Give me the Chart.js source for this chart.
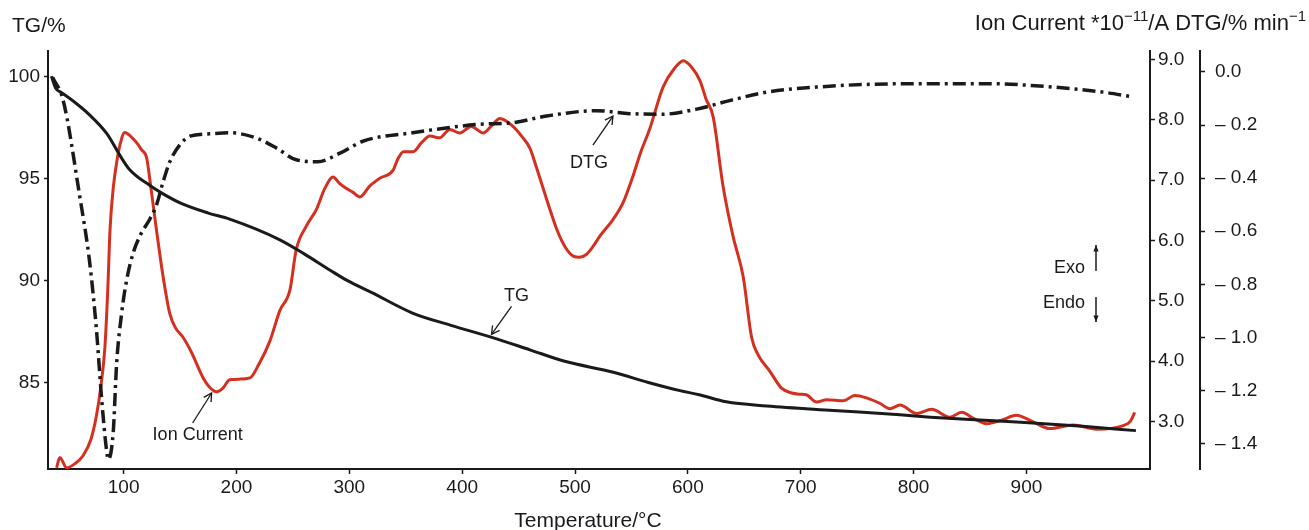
<!DOCTYPE html>
<html>
<head>
<meta charset="utf-8">
<title>TG / DTG / Ion Current</title>
<script src="https://cdn.jsdelivr.net/npm/chart.js@4/dist/chart.umd.min.js"></script>
<style>
    html, body { margin: 0; padding: 0; background: #fff; }
    #wrap { width: 1309px; height: 530px; position: relative; }
</style>
</head>
<body>
<div id="wrap"><canvas id="thermoChart"></canvas></div>
<script>
// --- data ---
const tgTemp = [36, 40, 45, 55, 70, 85, 97, 105, 123, 135, 150, 175, 194, 238, 260, 283, 298, 320, 356, 390, 427, 460, 490, 534, 565, 593, 610, 634, 670, 729, 788, 815, 850, 895, 950, 997];
const tgVal  = [100.0, 99.4, 99.2, 98.8, 98.1, 97.2, 96.1, 95.45, 94.66, 94.24, 93.8, 93.3, 93.0, 92.0, 91.3, 90.5, 90.0, 89.4, 88.4, 87.8, 87.2, 86.6, 86.05, 85.5, 85.0, 84.6, 84.4, 84.05, 83.85, 83.63, 83.42, 83.3, 83.18, 83.05, 82.85, 82.64];

const dtgTemp = [37, 46.5, 61, 70, 76, 80.5, 85, 86.4, 90.8, 93.8, 98.2, 102.7, 108.5, 114.4, 123.3, 129, 135, 141, 150, 158.8, 176.5, 194, 217.6, 235.6, 253, 272, 291.7, 312, 356, 415.7, 445, 474.8, 519, 548.6, 578, 607.8, 637, 669.8, 714, 758, 814, 865, 924, 968, 993];
const dtgVal  = [-0.02, -0.108, -0.465, -0.72, -0.975, -1.23, -1.43, -1.46, -1.357, -1.10, -0.911, -0.784, -0.682, -0.618, -0.554, -0.503, -0.414, -0.338, -0.274, -0.242, -0.233, -0.229, -0.249, -0.287, -0.331, -0.338, -0.306, -0.261, -0.229, -0.197, -0.191, -0.166, -0.146, -0.157, -0.159, -0.140, -0.108, -0.076, -0.057, -0.047, -0.044, -0.044, -0.057, -0.076, -0.093];

const ionTemp = [40.6, 43.5, 49.5, 57, 64, 71, 76, 80, 83.4, 86, 88, 91, 94, 97, 101, 106, 111.5, 116, 120.4, 124, 129, 135, 141, 146, 152.8, 160, 170.5, 176, 182.4, 188, 194, 203, 212, 220, 229.6, 238.5, 247.4, 253, 262, 271, 278, 285.7, 291, 297.6, 303, 309.4, 318, 327, 339, 343, 348, 356.6, 364, 371.4, 380, 389, 398, 408, 418.6, 426, 433.4, 445, 453, 460, 466, 471.8, 478, 483.7, 491, 498.4, 504, 510.3, 516, 522, 533.8, 542.7, 551.6, 558, 566.4, 578, 588, 596, 603, 610.7, 616, 622.5, 631, 640, 649, 656.5, 662, 672.7, 683, 692, 699.3, 705, 714, 723, 737.7, 748, 758.4, 770, 779, 788, 802.7, 816, 832, 842.6, 853, 864.7, 878, 891, 905, 920.8, 941.5, 962, 985.8, 992, 996];
const ionVal  = [2.23, 2.40, 2.23, 2.30, 2.43, 2.70, 3.10, 3.60, 4.22, 5.2, 6.19, 6.9, 7.31, 7.6, 7.79, 7.73, 7.62, 7.5, 7.37, 6.9, 6.19, 5.4, 4.78, 4.55, 4.39, 4.15, 3.72, 3.57, 3.49, 3.55, 3.69, 3.70, 3.72, 3.95, 4.33, 4.84, 5.18, 5.85, 6.24, 6.52, 6.85, 7.05, 6.95, 6.86, 6.80, 6.72, 6.90, 7.03, 7.17, 7.35, 7.47, 7.47, 7.62, 7.73, 7.70, 7.84, 7.78, 7.89, 7.78, 7.90, 8.02, 7.89, 7.72, 7.53, 7.2, 6.86, 6.5, 6.19, 5.9, 5.74, 5.72, 5.77, 5.9, 6.07, 6.35, 6.63, 7.08, 7.45, 7.86, 8.54, 8.85, 8.98, 8.88, 8.65, 8.35, 8.04, 6.92, 6.07, 5.40, 4.39, 4.11, 3.83, 3.55, 3.47, 3.45, 3.44, 3.32, 3.36, 3.34, 3.43, 3.39, 3.30, 3.21, 3.27, 3.13, 3.20, 3.07, 3.15, 3.05, 2.96, 3.02, 3.10, 3.00, 2.88, 2.94, 2.87, 2.93, 3.00, 3.15];

const tempTicks = [100, 200, 300, 400, 500, 600, 700, 800, 900];
const tgTicks = [85, 90, 95, 100];
const ionTicks = [3, 4, 5, 6, 7, 8, 9];
const dtgTicks = [0, -0.2, -0.4, -0.6, -0.8, -1.0, -1.2, -1.4];

const FONT = '"Liberation Sans", Arial, Helvetica, sans-serif';
const INK = '#1a1a1a';

function toPoints(xs, ys) {
    return xs.map((x, i) => ({ x: x, y: ys[i] }));
}

function fixedTicks(values) {
    return function (scale) {
        scale.ticks = values.map(v => ({ value: v }));
    };
}

function arrow(ctx, x1, y1, x2, y2, filled) {
    const ang = Math.atan2(y2 - y1, x2 - x1);
    const len = filled ? 7 : 9;
    const spread = filled ? 0.38 : 0.5;
    ctx.beginPath();
    ctx.moveTo(x1, y1);
    ctx.lineTo(x2, y2);
    ctx.stroke();
    ctx.beginPath();
    ctx.moveTo(x2 - len * Math.cos(ang - spread), y2 - len * Math.sin(ang - spread));
    ctx.lineTo(x2, y2);
    ctx.lineTo(x2 - len * Math.cos(ang + spread), y2 - len * Math.sin(ang + spread));
    if (filled) {
        ctx.closePath();
        ctx.fill();
    } else {
        ctx.stroke();
    }
}

// titles, curve labels and the exo/endo marker
const labelsPlugin = {
    id: 'labels',
    afterDraw(chart) {
        const { ctx, chartArea, scales } = chart;
        const x = scales.x, yTG = scales.yTG, yIon = scales.yIon, yDTG = scales.yDTG;
        ctx.save();
        ctx.fillStyle = INK;
        ctx.strokeStyle = INK;
        ctx.textBaseline = 'alphabetic';

        // axis titles
        ctx.font = '21px ' + FONT;
        ctx.textAlign = 'left';
        ctx.fillText('TG/%', 12, 32);
        ctx.textAlign = 'center';
        ctx.fillText('Temperature/°C', (chartArea.left + chartArea.right) / 2 - 11, 527);

        // right title with superscripts, right aligned
        const parts = [
            { t: 'Ion Current *10', sup: false },
            { t: '\u221211', sup: true },
            { t: '/A DTG/% min', sup: false },
            { t: '\u22121', sup: true }
        ];
        const big = '22px ' + FONT, small = '15px ' + FONT;
        let total = 0;
        parts.forEach(p => {
            ctx.font = p.sup ? small : big;
            p.w = ctx.measureText(p.t).width;
            total += p.w;
        });
        let cx = 1306 - total;
        ctx.textAlign = 'left';
        parts.forEach(p => {
            ctx.font = p.sup ? small : big;
            ctx.fillText(p.t, cx, p.sup ? 21 : 30);
            cx += p.w;
        });

        // curve labels
        ctx.font = '18px ' + FONT;
        ctx.lineWidth = 1.3;
        ctx.textAlign = 'center';
        ctx.textBaseline = 'middle';

        let hx = x.getPixelForValue(178), hy = yIon.getPixelForValue(3.47);
        arrow(ctx, hx - 19, hy + 30, hx, hy, false);
        ctx.fillText('Ion Current', hx - 14, hy + 42);

        hx = x.getPixelForValue(426); hy = yTG.getPixelForValue(87.36);
        arrow(ctx, hx + 20, hy - 28, hx, hy, false);
        ctx.fillText('TG', hx + 25, hy - 38);

        hx = x.getPixelForValue(533.6); hy = yDTG.getPixelForValue(-0.166);
        arrow(ctx, hx - 20, hy + 29, hx, hy, false);
        ctx.fillText('DTG', hx - 24, hy + 47);

        // exo / endo
        const ax = chartArea.right - 54;
        ctx.textAlign = 'right';
        ctx.fillText('Exo', ax - 11, 268);
        ctx.fillText('Endo', ax - 11, 303);
        ctx.lineWidth = 1.5;
        arrow(ctx, ax, 271, ax, 245, true);
        arrow(ctx, ax, 297, ax, 322, true);
        ctx.restore();
    }
};

const axisBorder = { display: true, color: INK, width: 2 };

new Chart(document.getElementById('thermoChart'), {
    type: 'line',
    data: {
        datasets: [{
            label: 'TG',
            data: toPoints(tgTemp, tgVal),
            yAxisID: 'yTG',
            borderColor: INK,
            borderWidth: 3,
            pointRadius: 0,
            cubicInterpolationMode: 'monotone'
        }, {
            label: 'DTG',
            data: toPoints(dtgTemp, dtgVal),
            yAxisID: 'yDTG',
            borderColor: INK,
            borderWidth: 3.5,
            borderDash: [13, 5, 3, 5],
            pointRadius: 0,
            cubicInterpolationMode: 'monotone'
        }, {
            label: 'Ion Current',
            data: toPoints(ionTemp, ionVal),
            yAxisID: 'yIon',
            borderColor: '#d4301f',
            borderWidth: 3,
            pointRadius: 0,
            cubicInterpolationMode: 'monotone'
        }]
    },
    options: {
        responsive: true,
        maintainAspectRatio: false,
        animation: false,
        layout: { padding: { top: 51, left: 0, right: 0, bottom: 0 } },
        plugins: {
            legend: { display: false },
            tooltip: { enabled: false }
        },
        scales: {
            x: {
                type: 'linear',
                min: 33,
                max: 1009.5,
                afterBuildTicks: fixedTicks(tempTicks),
                afterFit: s => { s.height = 61; },
                border: axisBorder,
                grid: { drawOnChartArea: false, color: INK, tickLength: 5, tickWidth: 1.5 },
                ticks: { autoSkip: false, maxRotation: 0, padding: 2, color: INK, font: { family: FONT, size: 19 } }
            },
            yTG: {
                type: 'linear',
                position: 'left',
                min: 80.76,
                max: 101.24,
                afterBuildTicks: fixedTicks(tgTicks),
                afterFit: s => { s.width = 48; },
                border: axisBorder,
                grid: { drawOnChartArea: false, color: INK, tickLength: 4, tickWidth: 1.5 },
                ticks: { autoSkip: false, padding: 4, color: INK, font: { family: FONT, size: 19 } }
            },
            yIon: {
                type: 'linear',
                position: 'right',
                weight: 0,
                min: 2.21,
                max: 9.14,
                afterBuildTicks: fixedTicks(ionTicks),
                afterFit: s => { s.width = 50; },
                border: axisBorder,
                grid: { drawOnChartArea: false, color: INK, tickLength: 5, tickWidth: 1.5 },
                ticks: {
                    autoSkip: false, padding: 3, color: INK, font: { family: FONT, size: 19 },
                    callback: v => v.toFixed(1)
                }
            },
            yDTG: {
                type: 'linear',
                position: 'right',
                weight: 1,
                min: -1.496,
                max: 0.079,
                afterBuildTicks: fixedTicks(dtgTicks),
                afterFit: s => { s.width = 109; },
                border: axisBorder,
                grid: { drawOnChartArea: false, color: INK, tickLength: 5, tickWidth: 1.5 },
                ticks: {
                    autoSkip: false, padding: 10, color: INK, font: { family: FONT, size: 19 },
                    callback: v => Math.abs(v) < 1e-9 ? '0.0' : '\u2013 ' + Math.abs(v).toFixed(1)
                }
            }
        }
    },
    plugins: [labelsPlugin]
});
</script>
</body>
</html>
